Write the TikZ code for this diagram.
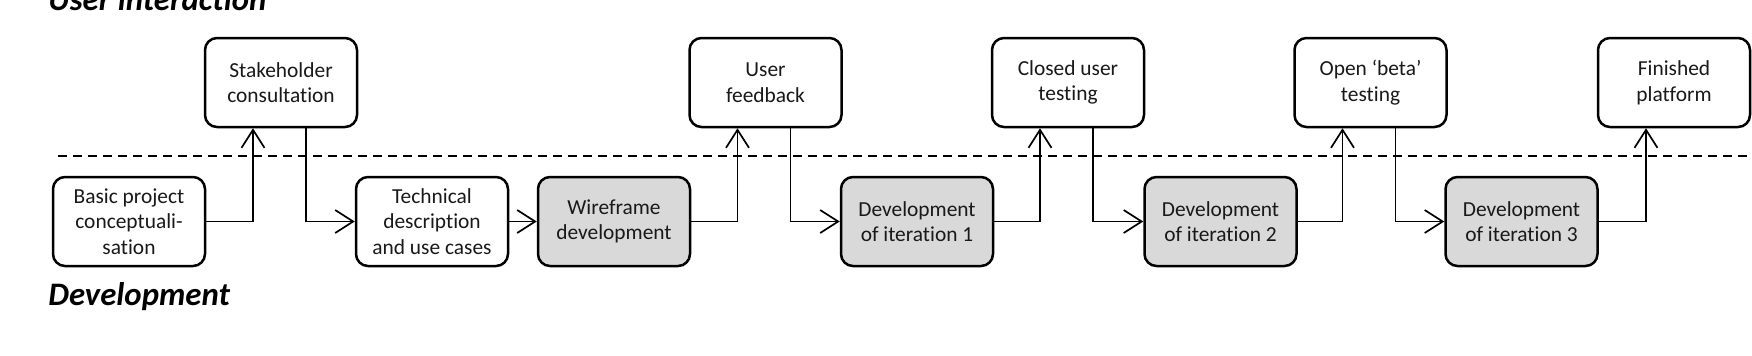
\documentclass[tikz,border=0pt]{standalone}
\usepackage{fontspec}
\setmainfont{Carlito}[Ligatures={TeX,NoCommon}]
\usetikzlibrary{arrows.meta}

\begin{document}
\begin{tikzpicture}[
    x=0.5pt, y=-0.5pt,
    box/.style={draw, rounded corners=6pt, line width=1.25pt, fill=white, align=center,
      minimum width=76pt, minimum height=44.5pt, inner sep=2pt,
      font=\fontsize{10.7}{12.8}\selectfont, text=black!90},
    devbox/.style={box, fill=gray!30},
    link/.style={line width=0.85pt, -{Straight Barb[length=9pt,width=11.5pt]}},
    lane/.style={font=\fontsize{16.4}{19}\selectfont\bfseries\itshape, anchor=base west, inner sep=0pt}
  ]
  \useasboundingbox (0,0) rectangle (1752,355);
  % lane titles and the border between the lanes
  \node[lane] (userlane) at (48,10) {User interaction};
  \node[lane] (devlane) at (48,305) {Development};
  \draw[line width=1pt, dash pattern=on 4.5pt off 3pt] (58,156) -- (1752,156);

  % user interaction steps
  \node[box] (stake) at (281,82.5) {Stakeholder\\consultation};
  \node[box] (feed) at (765.5,82.5) {User\\feedback};
  \node[box] (closed) at (1068,82.5) {Closed user\\testing};
  \node[box] (beta) at (1370.5,82.5) {Open ‘beta’\\testing};
  \node[box] (finished) at (1674,82.5) {Finished\\platform};

  % development steps
  \node[box] (basic) at (129,221.5) {Basic project\\conceptuali-\\sation};
  \node[box] (tech) at (432,221.5) {Technical\\description\\and use cases};
  \node[devbox] (wire) at (614,221.5) {Wireframe\\development};
  \node[devbox] (dev1) at (917,221.5) {Development\\of iteration 1};
  \node[devbox] (dev2) at (1220.5,221.5) {Development\\of iteration 2};
  \node[devbox] (dev3) at (1521.5,221.5) {Development\\of iteration 3};

  % up to the users and back down again
  \foreach \from/\via/\to in {basic/stake/tech, wire/feed/dev1, dev1/closed/dev2, dev2/beta/dev3}{
    \draw[link] (\from) -| ([xshift=-14pt]\via.south);
    \draw[link] ([xshift=12.5pt]\via.south) |- (\to);
  }
  \draw[link] (tech) -- (wire);
  \draw[link] (dev3) -| ([xshift=-14pt]finished.south);
\end{tikzpicture}
\end{document}
